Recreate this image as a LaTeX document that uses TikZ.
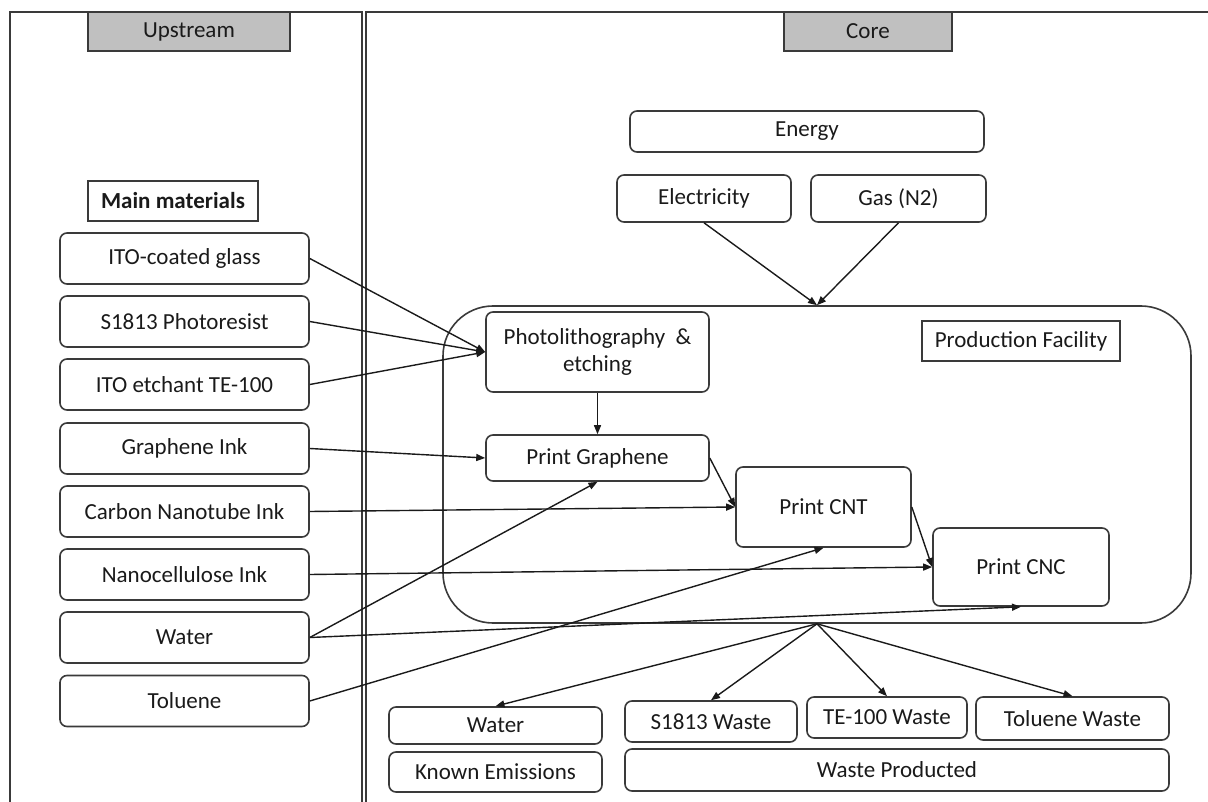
\documentclass[tikz,border=0pt]{standalone}
\usepackage{fontspec}
\setmainfont{Carlito}
\usetikzlibrary{arrows.meta}
\definecolor{ln}{HTML}{3A3A3A}
\definecolor{tx}{HTML}{1A1A1A}
\definecolor{hdr}{HTML}{C0C0C0}
\begin{document}
\begin{tikzpicture}[x=1pt,y=-1pt,
  every node/.style={font=\fontsize{23}{27}\selectfont, text=tx, inner sep=0pt},
  rbox/.style={draw=ln, line width=1.6pt, rounded corners=7pt, align=center},
  sbox/.style={draw=ln, line width=1.6pt, align=center},
  hbox/.style={draw=ln, line width=1.7pt, fill=hdr},
  arr/.style={draw=tx, line width=1.4pt, -{Triangle[length=9pt,width=7pt]}}]
\useasboundingbox (0,0) rectangle (1208,802);
\begin{scope}
\clip (0,0) rectangle (1208,802);
% panels
\draw[draw=ln, line width=1.8pt] (10,820) -- (10,12) -- (362,12) -- (362,820);
\draw[draw=ln, line width=1.8pt] (366,820) -- (366,12) -- (1220,12);
\end{scope}
% headers
\node[hbox, minimum width=202, minimum height=39] (up) at (189,31.5) {Upstream};
\node[hbox, minimum width=168, minimum height=39] (core) at (868,31.5) {Core};
% upstream
\node[sbox, minimum width=170, minimum height=40, font=\fontsize{23}{27}\selectfont\bfseries] (mm) at (173,201) {Main materials};
\node[rbox, minimum width=249, minimum height=51] (m1) at (184.5,258.5) {ITO-coated glass};
\node[rbox, minimum width=249, minimum height=51] (m2) at (184.5,321.5) {S1813 Photoresist};
\node[rbox, minimum width=249, minimum height=51] (m3) at (184.5,384.5) {ITO etchant TE-100};
\node[rbox, minimum width=249, minimum height=51] (m4) at (184.5,448.5) {Graphene Ink};
\node[rbox, minimum width=249, minimum height=51] (m5) at (184.5,511.5) {Carbon Nanotube Ink};
\node[rbox, minimum width=249, minimum height=51] (m6) at (184.5,574.5) {Nanocellulose Ink};
\node[rbox, minimum width=249, minimum height=51] (m7) at (184.5,637.5) {Water};
\node[rbox, minimum width=249, minimum height=51] (m8) at (184.5,701) {Toluene};
% energy
\node[rbox, minimum width=354, minimum height=41] (en) at (807,131.5) {Energy};
\node[rbox, minimum width=174, minimum height=47] (el) at (704,198.5) {Electricity};
\node[rbox, minimum width=175, minimum height=47] (gas) at (898.5,198.5) {Gas (N2)};
% facility
\node[draw=ln, line width=1.6pt, rounded corners=50pt, minimum width=748, minimum height=317] (fac) at (817,464.5) {};
\node[sbox, minimum width=198, minimum height=40] (pf) at (1021,341) {Production Facility};
\node[rbox, minimum width=223, minimum height=80] (ph) at (597.5,352) {Photolithography\hspace{0.45em}\&\\etching};
\node[rbox, minimum width=223, minimum height=46] (pg) at (597.5,458) {Print Graphene};
\node[rbox, minimum width=175, minimum height=80] (pc) at (823.5,507) {Print CNT};
\node[rbox, minimum width=176, minimum height=78] (pn) at (1021,567) {Print CNC};
% outputs
\node[rbox, minimum width=213, minimum height=37] (ow) at (495.5,725.5) {Water};
\node[rbox, minimum width=213, minimum height=40] (ke) at (495.5,772) {Known Emissions};
\node[rbox, minimum width=172, minimum height=41] (os) at (711,721.5) {S1813 Waste};
\node[rbox, minimum width=160, minimum height=41] (ot) at (887,717.5) {TE-100 Waste};
\node[rbox, minimum width=193, minimum height=43] (ol) at (1072.5,718.5) {Toluene Waste};
\node[rbox, minimum width=544, minimum height=42] (wp) at (897,770) {Waste Producted};
% arrows
\draw[arr] (el.south) -- (fac.north);
\draw[arr] (gas.south) -- (fac.north);
\draw[arr] (m1.east) -- (ph.west);
\draw[arr] (m2.east) -- (ph.west);
\draw[arr] (m3.east) -- (ph.west);
\draw[arr] (ph.south) -- (pg.north);
\draw[arr] (m4.east) -- (pg.west);
\draw[arr] (m5.east) -- (pc.west);
\draw[arr] (pg.east) -- (pc.west);
\draw[arr] (m6.east) -- (pn.west);
\draw[arr] (pc.east) -- (pn.west);
\draw[arr] (m7.east) -- (pg.south);
\draw[arr] (m7.east) -- (pn.south);
\draw[arr] (m8.east) -- (pc.south);
\draw[arr] (fac.south) -- (ow.north);
\draw[arr] (fac.south) -- (os.north);
\draw[arr] (fac.south) -- (ot.north);
\draw[arr] (fac.south) -- (ol.north);
\end{tikzpicture}
\end{document}
